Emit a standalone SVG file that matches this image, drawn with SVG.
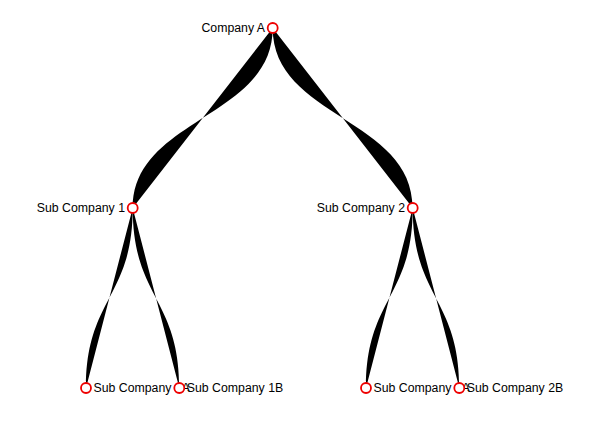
<svg xmlns="http://www.w3.org/2000/svg" width="592" height="425" viewBox="0 0 592 425">
<style>
.link{fill:#000;stroke:none}
.node circle{fill:#fff;stroke:#e00;stroke-width:1.8px}
.node text{font-family:"Liberation Sans",Arial,sans-serif;font-size:12.3px;fill:#000}
.l{text-anchor:end}
</style>
<rect width="592" height="425" fill="#fff"/>
<g id="links">
<path class="link" d="M272.7,28 C272.7,118 132.7,118 132.7,208"/>
<path class="link" d="M272.7,28 C272.7,118 412.7,118 412.7,208"/>
<path class="link" d="M132.7,208 C132.7,298 86,298 86,388"/>
<path class="link" d="M132.7,208 C132.7,298 179.3,298 179.3,388"/>
<path class="link" d="M412.7,208 C412.7,298 366,298 366,388"/>
<path class="link" d="M412.7,208 C412.7,298 459.3,298 459.3,388"/>
</g>
<g id="company-a" class="node"><circle cx="272.7" cy="28" r="5"/><text class="l" x="265" y="32.3">Company A</text></g>
<g id="sub-company-1" class="node"><circle cx="132.7" cy="208" r="5"/><text class="l" x="125" y="212.3">Sub Company 1</text></g>
<g id="sub-company-2" class="node"><circle cx="412.7" cy="208" r="5"/><text class="l" x="405" y="212.3">Sub Company 2</text></g>
<g id="sub-company-1a" class="node"><circle cx="86" cy="388" r="5"/><text x="93.5" y="392.3">Sub Company 1A</text></g>
<g id="sub-company-1b" class="node"><circle cx="179.3" cy="388" r="5"/><text x="186.8" y="392.3">Sub Company 1B</text></g>
<g id="sub-company-2a" class="node"><circle cx="366" cy="388" r="5"/><text x="373.5" y="392.3">Sub Company 2A</text></g>
<g id="sub-company-2b" class="node"><circle cx="459.3" cy="388" r="5"/><text x="466.8" y="392.3">Sub Company 2B</text></g>
</svg>
